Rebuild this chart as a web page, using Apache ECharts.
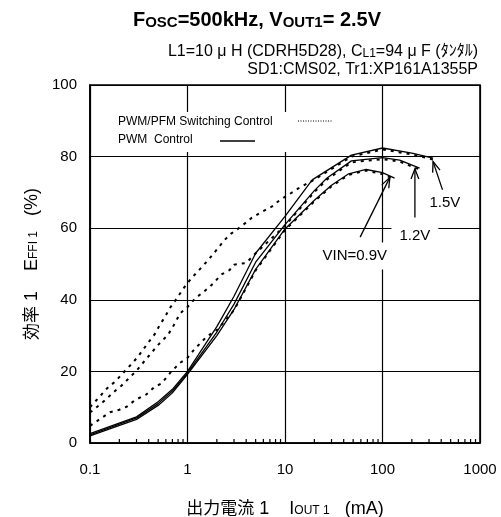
<!DOCTYPE html>
<html>
<head>
<meta charset="utf-8">
<script src="https://cdn.jsdelivr.net/npm/echarts@6/dist/echarts.min.js"></script>
<style>
  html, body { margin: 0; padding: 0; background: #fff; }
  #chart { width: 501px; height: 517px; }
</style>
</head>
<body>
<div id="chart"></div>
<script>
// efficiency (%) vs output current (mA)
const pwm15 = [[0.1, 2.6], [0.3, 7.3], [0.5, 11.5], [0.7, 15], [1, 20], [2, 32.5], [3, 41], [5, 53], [10, 63.3], [19, 73.5], [48, 80.4], [100, 82.4], [200, 81], [330, 79.6]];
const pwm12 = [[0.1, 2.3], [0.3, 7], [0.5, 11], [0.7, 14.5], [1, 19.6], [2, 31], [3, 38.8], [5, 50.5], [10, 61], [20, 70.5], [27, 74], [48, 78.8], [100, 79.7], [150, 79], [240, 76.8]];
const pwm09 = [[0.1, 2], [0.3, 6.6], [0.5, 10.5], [0.7, 14], [1, 19.2], [2, 30], [3, 37.3], [5, 48.5], [10, 59.8], [20, 67.8], [30, 72], [45, 75.2], [68, 76.4], [100, 75.5], [133, 74]];

const pfm15 = [[0.1, 10], [0.13, 13.4], [0.15, 15.3], [0.18, 17.1], [0.28, 22.7], [0.31, 24.1], [0.39, 27.8], [0.47, 30.7], [0.52, 33], [0.59, 35.3], [0.66, 37.7], [0.8, 40.9], [0.9, 43], [1, 44.7], [1.14, 46.5], [1.57, 50.6], [1.8, 52.5], [2.4, 56.7], [2.8, 58.5], [3.6, 60.6], [4.5, 62.8], [5.8, 64.6], [7.3, 66], [8.9, 67.9], [10.8, 69.3], [13.7, 71.1], [17.2, 72.6], [19, 73.2], [48, 80], [100, 82], [200, 80.6], [330, 79.2]];
const pfm12 = [[0.1, 8.5], [0.13, 11], [0.15, 12.5], [0.185, 14.8], [0.21, 16], [0.3, 20.2], [0.4, 24.3], [0.5, 27.4], [0.63, 30.2], [0.71, 32.5], [0.84, 36.2], [1, 38], [1.2, 40.4], [1.4, 41.8], [1.7, 43.7], [1.9, 45], [2.2, 47], [2.7, 48.3], [3, 49.8], [4, 50.3], [5, 53], [10, 60.7], [20, 70.1], [27, 73.6], [48, 78.4], [100, 79.3], [150, 78.6], [240, 76.4]];
const pfm09 = [[0.1, 4.8], [0.13, 6.9], [0.16, 8.6], [0.2, 9.3], [0.24, 10.2], [0.29, 12], [0.38, 13.6], [0.46, 15.7], [0.54, 16.6], [0.68, 19.9], [0.83, 22.3], [1, 23.8], [1.18, 26.2], [1.4, 28.3], [1.6, 29.9], [2, 31.5], [3, 37.1], [5, 48.2], [10, 59.5], [20, 67.5], [30, 71.7], [45, 74.9], [68, 76.1], [100, 75.1], [133, 73.7]];

const xTicks = [0.1, 1, 10, 100, 1000];
const minorTicks = [0.2, 0.3, 0.4, 0.5, 0.6, 0.7, 0.8, 0.9, 2, 3, 4, 5, 6, 7, 8, 9, 20, 30, 40, 50, 60, 70, 80, 90, 200, 300, 400, 500, 600, 700, 800, 900];

// VIN call-outs: label position, arrow tail and tip, in data units
const notes = [
  { text: '1.5V', at: [437, 67], tail: [415, 70.5], tip: [330, 78.6] },
  { text: '1.2V', at: [215, 58], tail: [215, 63], tip: [215, 76.6] },
  { text: 'VIN=0.9V', at: [52, 52.2], tail: [59, 57.5], tip: [119, 74.2] }
];

const FONT = "'Liberation Sans', Arial, 'Noto Sans CJK JP', sans-serif";
const chart = echarts.init(document.getElementById('chart'));

const solid = (name, data) => ({
  name, type: 'line', data, symbol: 'none', z: 3,
  lineStyle: { color: '#000', width: 1.3 }
});
const dotted = (name, data) => ({
  name, type: 'line', data, symbol: 'none', z: 2,
  lineStyle: { color: '#000', width: 2, type: [3, 5] }
});

const nameRich = {
  a: { fontSize: 17, fontFamily: FONT, color: '#000', verticalAlign: 'bottom' },
  b: { fontSize: 18, fontFamily: FONT, color: '#000', verticalAlign: 'bottom' },
  s: { fontSize: 12, fontFamily: FONT, color: '#000', verticalAlign: 'bottom', padding: [0, 0, 1, 0] }
};

chart.setOption({
  animation: false,
  textStyle: { fontFamily: FONT },
  grid: {
    left: 90, right: 21, top: 85, bottom: 74, outerBoundsMode: 'none',
    show: true, borderColor: '#000', borderWidth: 1.6
  },
  xAxis: {
    type: 'log', logBase: 10, min: xTicks[0], max: xTicks[xTicks.length - 1],
    axisLine: { lineStyle: { color: '#000', width: 1.6 } },
    axisTick: { show: false },
    axisLabel: {
      color: '#000', fontSize: 15, margin: 19,
      formatter: v => String(Number(v.toPrecision(3)))
    },
    splitLine: { show: true, lineStyle: { color: '#000', width: 1.2 } },
    name: '{a|出力電流}{b| 1    I}{s|OUT 1}{b|   (mA)}',
    nameLocation: 'middle', nameGap: 57,
    nameTextStyle: { rich: nameRich }
  },
  yAxis: {
    type: 'value', min: 0, max: 100, interval: 20,
    axisLine: { show: true, lineStyle: { color: '#000', width: 1.6 } },
    axisTick: { show: false },
    axisLabel: { color: '#000', fontSize: 15, margin: 13 },
    splitLine: { show: true, lineStyle: { color: '#000', width: 1.2 } },
    name: '{a|効率}{b| 1    E}{s|FFI 1}{b|   (%)}',
    nameLocation: 'middle', nameGap: 47, nameRotate: 90,
    nameTextStyle: { rich: nameRich }
  },
  series: [
    dotted('PWM/PFM 1.5V', pfm15),
    dotted('PWM/PFM 1.2V', pfm12),
    dotted('PWM/PFM 0.9V', pfm09),
    solid('PWM 1.5V', pwm15),
    solid('PWM 1.2V', pwm12),
    solid('PWM 0.9V', pwm09),
    {
      // log minor ticks along the bottom edge, pointing inward
      type: 'custom', silent: true, z: 5,
      data: minorTicks.map(v => [v, 0]),
      renderItem: (params, api) => {
        const p = api.coord([api.value(0), 0]);
        return { type: 'line', shape: { x1: p[0], y1: p[1], x2: p[0], y2: p[1] - 4 }, style: { stroke: '#000', lineWidth: 1.2 } };
      }
    }
  ]
});

function arrow(p, q) {
  const ang = Math.atan2(q[1] - p[1], q[0] - p[0]);
  const len = 11, spread = 0.36;
  const a1 = [q[0] - len * Math.cos(ang - spread), q[1] - len * Math.sin(ang - spread)];
  const a2 = [q[0] - len * Math.cos(ang + spread), q[1] - len * Math.sin(ang + spread)];
  return [
    { type: 'line', z: 100, shape: { x1: p[0], y1: p[1], x2: q[0], y2: q[1] }, style: { stroke: '#000', lineWidth: 1.3 } },
    { type: 'polyline', z: 100, shape: { points: [a1, q, a2] }, style: { stroke: '#000', fill: null, lineWidth: 1.3 } }
  ];
}

const px = d => chart.convertToPixel({ gridIndex: 0 }, d);
const graphics = [];
notes.forEach(n => {
  graphics.push(...arrow(px(n.tail), px(n.tip)));
  const c = px(n.at);
  graphics.push({
    type: 'text', z: 101, x: c[0], y: c[1],
    style: {
      text: n.text, font: '15px ' + FONT, fill: '#000', align: 'center', verticalAlign: 'middle',
      backgroundColor: '#fff', padding: [6, 8]
    }
  });
});

// legend box
graphics.push(
  { type: 'rect', z: 100, shape: { x: 108, y: 112, width: 234, height: 40 }, style: { fill: '#fff' } },
  { type: 'text', z: 101, x: 118, y: 122, style: { text: 'PWM/PFM Switching Control', font: '12px ' + FONT, fill: '#000', verticalAlign: 'middle' } },
  { type: 'text', z: 101, x: 118, y: 140, style: { text: 'PWM  Control', font: '12px ' + FONT, fill: '#000', verticalAlign: 'middle' } },
  { type: 'line', z: 101, shape: { x1: 298, y1: 121, x2: 333, y2: 121 }, style: { stroke: '#000', lineWidth: 1, lineDash: [1, 1.5] } },
  { type: 'line', z: 101, shape: { x1: 220, y1: 141, x2: 255, y2: 141 }, style: { stroke: '#000', lineWidth: 1.3 } }
);

// headings
graphics.push(
  {
    type: 'text', x: 257, y: 30,
    style: {
      text: '{b|F}{s|OSC}{b|=500kHz, V}{s|OUT1}{b|= 2.5V}', align: 'center', verticalAlign: 'bottom', fill: '#000',
      rich: {
        b: { fontSize: 20, fontWeight: 'bold', fontFamily: FONT, verticalAlign: 'bottom' },
        s: { fontSize: 15, fontWeight: 'bold', fontFamily: FONT, verticalAlign: 'bottom' }
      }
    }
  },
  {
    type: 'text', x: 478, y: 60,
    style: {
      text: '{a|L1=10 μ H (CDRH5D28), C}{s|L1}{a|=94 μ F (ﾀﾝﾀﾙ)}', align: 'right', verticalAlign: 'bottom', fill: '#000',
      rich: {
        a: { fontSize: 16, fontFamily: FONT, verticalAlign: 'bottom' },
        s: { fontSize: 12, fontFamily: FONT, verticalAlign: 'bottom' }
      }
    }
  },
  {
    type: 'text', x: 478, y: 78,
    style: { text: 'SD1:CMS02, Tr1:XP161A1355P', font: '16px ' + FONT, fill: '#000', align: 'right', verticalAlign: 'bottom' }
  }
);

chart.setOption({ graphic: graphics });
</script>
</body>
</html>
